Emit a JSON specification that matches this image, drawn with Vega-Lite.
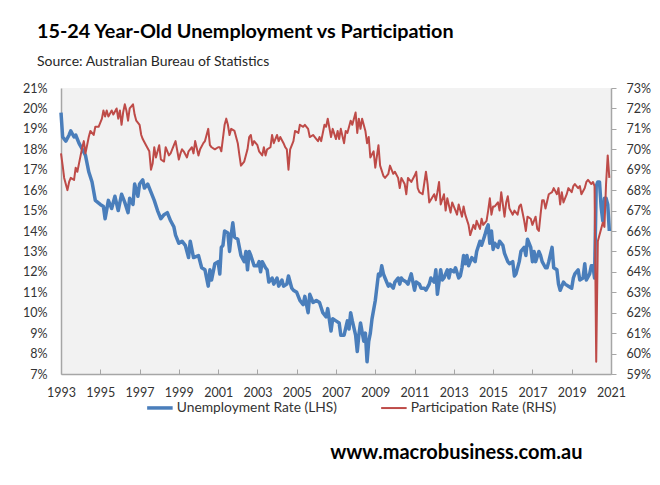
{
  "$schema": "https://vega.github.io/schema/vega-lite/v6.json",
  "width": 550,
  "height": 286,
  "autosize": {"type": "pad"},
  "padding": {"left": 22, "right": 10, "top": 22, "bottom": 0},
  "background": "white",
  "title": {
    "text": "15-24 Year-Old Unemployment vs Participation",
    "subtitle": "Source: Australian Bureau of Statistics",
    "anchor": "start",
    "frame": "group",
    "dx": -24,
    "font": "Lato",
    "fontSize": 19.8,
    "fontWeight": "bold",
    "color": "#000000",
    "subtitleFont": "Lato",
    "subtitleFontSize": 14,
    "subtitleColor": "#262626",
    "subtitlePadding": 13,
    "offset": 13
  },
  "datasets": {
    "unemployment": [
      {"month": "1993-01", "rate": 19.8}, {"month": "1993-02", "rate": 18.6}, {"month": "1993-04", "rate": 18.4},
      {"month": "1993-06", "rate": 18.7}, {"month": "1993-07", "rate": 18.9}, {"month": "1993-09", "rate": 18.6},
      {"month": "1993-10", "rate": 18.7}, {"month": "1993-12", "rate": 18.3}, {"month": "1994-02", "rate": 18.0},
      {"month": "1994-04", "rate": 17.7}, {"month": "1994-06", "rate": 16.9}, {"month": "1994-08", "rate": 16.4},
      {"month": "1994-10", "rate": 15.5}, {"month": "1995-01", "rate": 15.3}, {"month": "1995-03", "rate": 15.2},
      {"month": "1995-04", "rate": 14.6}, {"month": "1995-06", "rate": 15.5}, {"month": "1995-08", "rate": 15.1},
      {"month": "1995-10", "rate": 15.7}, {"month": "1995-12", "rate": 15.0}, {"month": "1996-02", "rate": 15.8},
      {"month": "1996-04", "rate": 15.4}, {"month": "1996-06", "rate": 14.9}, {"month": "1996-07", "rate": 15.6},
      {"month": "1996-09", "rate": 15.3}, {"month": "1996-10", "rate": 16.3}, {"month": "1996-12", "rate": 15.7},
      {"month": "1997-01", "rate": 16.3}, {"month": "1997-03", "rate": 16.5}, {"month": "1997-04", "rate": 16.1},
      {"month": "1997-06", "rate": 16.3}, {"month": "1997-08", "rate": 15.9}, {"month": "1997-10", "rate": 15.5},
      {"month": "1997-12", "rate": 15.0}, {"month": "1998-02", "rate": 14.6}, {"month": "1998-04", "rate": 14.8},
      {"month": "1998-06", "rate": 14.9}, {"month": "1998-08", "rate": 14.5}, {"month": "1998-10", "rate": 14.2},
      {"month": "1998-11", "rate": 13.8}, {"month": "1999-01", "rate": 13.4}, {"month": "1999-03", "rate": 13.5},
      {"month": "1999-05", "rate": 13.3}, {"month": "1999-07", "rate": 12.7}, {"month": "1999-08", "rate": 13.5},
      {"month": "1999-10", "rate": 12.7}, {"month": "2000-01", "rate": 12.8}, {"month": "2000-03", "rate": 12.2},
      {"month": "2000-05", "rate": 12.1}, {"month": "2000-07", "rate": 11.3}, {"month": "2000-08", "rate": 12.1},
      {"month": "2000-09", "rate": 11.6}, {"month": "2000-11", "rate": 12.4}, {"month": "2001-01", "rate": 12.5},
      {"month": "2001-02", "rate": 11.9}, {"month": "2001-03", "rate": 13.2}, {"month": "2001-04", "rate": 13.3},
      {"month": "2001-05", "rate": 14.0}, {"month": "2001-07", "rate": 13.9}, {"month": "2001-08", "rate": 13.0},
      {"month": "2001-09", "rate": 13.8}, {"month": "2001-10", "rate": 14.4}, {"month": "2001-11", "rate": 13.7},
      {"month": "2002-01", "rate": 13.6}, {"month": "2002-03", "rate": 12.8}, {"month": "2002-05", "rate": 12.5},
      {"month": "2002-06", "rate": 13.0}, {"month": "2002-07", "rate": 12.1}, {"month": "2002-08", "rate": 13.0},
      {"month": "2002-09", "rate": 12.8}, {"month": "2002-11", "rate": 12.3}, {"month": "2003-01", "rate": 12.3},
      {"month": "2003-02", "rate": 12.5}, {"month": "2003-03", "rate": 12.0}, {"month": "2003-04", "rate": 12.5},
      {"month": "2003-06", "rate": 12.2}, {"month": "2003-07", "rate": 12.1}, {"month": "2003-08", "rate": 11.5},
      {"month": "2003-10", "rate": 11.7}, {"month": "2003-11", "rate": 11.4}, {"month": "2004-01", "rate": 11.7},
      {"month": "2004-02", "rate": 11.3}, {"month": "2004-04", "rate": 11.6}, {"month": "2004-05", "rate": 11.3},
      {"month": "2004-07", "rate": 11.4}, {"month": "2004-08", "rate": 11.8}, {"month": "2004-10", "rate": 11.2},
      {"month": "2004-11", "rate": 11.1}, {"month": "2005-01", "rate": 11.0}, {"month": "2005-03", "rate": 10.6},
      {"month": "2005-05", "rate": 10.4}, {"month": "2005-06", "rate": 10.8}, {"month": "2005-08", "rate": 10.0},
      {"month": "2005-09", "rate": 10.9}, {"month": "2005-11", "rate": 10.5}, {"month": "2006-01", "rate": 10.6},
      {"month": "2006-03", "rate": 10.5}, {"month": "2006-05", "rate": 10.0}, {"month": "2006-07", "rate": 9.8},
      {"month": "2006-08", "rate": 10.2}, {"month": "2006-10", "rate": 9.1}, {"month": "2006-11", "rate": 9.7},
      {"month": "2007-01", "rate": 9.6}, {"month": "2007-03", "rate": 9.5}, {"month": "2007-04", "rate": 8.9},
      {"month": "2007-06", "rate": 8.9}, {"month": "2007-08", "rate": 9.6}, {"month": "2007-09", "rate": 9.2},
      {"month": "2007-10", "rate": 10.0}, {"month": "2007-11", "rate": 9.6}, {"month": "2008-01", "rate": 8.9},
      {"month": "2008-02", "rate": 8.1}, {"month": "2008-03", "rate": 8.9}, {"month": "2008-04", "rate": 9.5},
      {"month": "2008-06", "rate": 8.6}, {"month": "2008-07", "rate": 9.0}, {"month": "2008-08", "rate": 7.6},
      {"month": "2008-09", "rate": 8.6}, {"month": "2008-10", "rate": 9.0}, {"month": "2008-11", "rate": 9.7},
      {"month": "2009-01", "rate": 10.6}, {"month": "2009-03", "rate": 11.9}, {"month": "2009-04", "rate": 11.8},
      {"month": "2009-05", "rate": 12.3}, {"month": "2009-06", "rate": 11.9}, {"month": "2009-07", "rate": 11.7},
      {"month": "2009-09", "rate": 11.3}, {"month": "2009-10", "rate": 11.4}, {"month": "2009-12", "rate": 11.2},
      {"month": "2010-01", "rate": 11.5}, {"month": "2010-03", "rate": 11.7}, {"month": "2010-04", "rate": 11.4},
      {"month": "2010-05", "rate": 11.7}, {"month": "2010-06", "rate": 11.6}, {"month": "2010-08", "rate": 11.5},
      {"month": "2010-09", "rate": 11.4}, {"month": "2010-11", "rate": 11.9}, {"month": "2011-01", "rate": 11.1},
      {"month": "2011-02", "rate": 11.5}, {"month": "2011-04", "rate": 11.4}, {"month": "2011-05", "rate": 11.2},
      {"month": "2011-07", "rate": 11.2}, {"month": "2011-08", "rate": 11.1}, {"month": "2011-10", "rate": 11.4},
      {"month": "2011-11", "rate": 11.7}, {"month": "2012-01", "rate": 11.5}, {"month": "2012-02", "rate": 12.1},
      {"month": "2012-03", "rate": 10.9}, {"month": "2012-05", "rate": 12.1}, {"month": "2012-06", "rate": 11.6},
      {"month": "2012-07", "rate": 11.7}, {"month": "2012-09", "rate": 12.1}, {"month": "2012-10", "rate": 11.7},
      {"month": "2012-11", "rate": 12.1}, {"month": "2013-01", "rate": 12.0}, {"month": "2013-02", "rate": 12.2},
      {"month": "2013-04", "rate": 11.7}, {"month": "2013-05", "rate": 11.8}, {"month": "2013-06", "rate": 12.2},
      {"month": "2013-07", "rate": 12.8}, {"month": "2013-08", "rate": 12.4}, {"month": "2013-09", "rate": 12.8},
      {"month": "2013-10", "rate": 12.3}, {"month": "2013-12", "rate": 12.7}, {"month": "2014-02", "rate": 12.5},
      {"month": "2014-03", "rate": 13.0}, {"month": "2014-05", "rate": 13.5}, {"month": "2014-06", "rate": 13.3},
      {"month": "2014-08", "rate": 13.8}, {"month": "2014-09", "rate": 14.1}, {"month": "2014-10", "rate": 14.3},
      {"month": "2014-11", "rate": 13.4}, {"month": "2014-12", "rate": 14.0}, {"month": "2015-01", "rate": 13.1},
      {"month": "2015-02", "rate": 13.4}, {"month": "2015-03", "rate": 13.3}, {"month": "2015-04", "rate": 13.2},
      {"month": "2015-05", "rate": 13.5}, {"month": "2015-07", "rate": 13.3}, {"month": "2015-08", "rate": 12.9},
      {"month": "2015-10", "rate": 12.5}, {"month": "2015-11", "rate": 12.4}, {"month": "2016-01", "rate": 12.5},
      {"month": "2016-02", "rate": 11.8}, {"month": "2016-03", "rate": 11.9}, {"month": "2016-05", "rate": 12.5},
      {"month": "2016-06", "rate": 13.0}, {"month": "2016-08", "rate": 13.2}, {"month": "2016-09", "rate": 12.8},
      {"month": "2016-10", "rate": 13.6}, {"month": "2016-12", "rate": 13.2}, {"month": "2017-01", "rate": 12.5},
      {"month": "2017-02", "rate": 13.0}, {"month": "2017-03", "rate": 12.5}, {"month": "2017-05", "rate": 13.0},
      {"month": "2017-06", "rate": 12.8}, {"month": "2017-07", "rate": 12.5}, {"month": "2017-09", "rate": 12.2},
      {"month": "2017-10", "rate": 12.2}, {"month": "2017-11", "rate": 12.5}, {"month": "2018-01", "rate": 13.2},
      {"month": "2018-02", "rate": 12.2}, {"month": "2018-04", "rate": 12.1}, {"month": "2018-05", "rate": 11.4},
      {"month": "2018-06", "rate": 11.1}, {"month": "2018-08", "rate": 11.5}, {"month": "2018-09", "rate": 11.4},
      {"month": "2018-11", "rate": 11.3}, {"month": "2019-01", "rate": 11.2}, {"month": "2019-02", "rate": 11.7},
      {"month": "2019-03", "rate": 11.9}, {"month": "2019-05", "rate": 12.1}, {"month": "2019-06", "rate": 11.6},
      {"month": "2019-08", "rate": 11.7}, {"month": "2019-09", "rate": 12.4}, {"month": "2019-10", "rate": 11.6},
      {"month": "2019-12", "rate": 11.9}, {"month": "2020-01", "rate": 12.3}, {"month": "2020-02", "rate": 12.3},
      {"month": "2020-03", "rate": 11.7}, {"month": "2020-04", "rate": 16.2}, {"month": "2020-05", "rate": 16.4},
      {"month": "2020-06", "rate": 16.4}, {"month": "2020-07", "rate": 15.2}, {"month": "2020-08", "rate": 14.5},
      {"month": "2020-09", "rate": 15.6}, {"month": "2020-10", "rate": 15.6}, {"month": "2020-11", "rate": 15.3},
      {"month": "2020-12", "rate": 14.0}
    ],
    "participation": [
      {"month": "1993-01", "rate": 69.8}, {"month": "1993-02", "rate": 69.2}, {"month": "1993-03", "rate": 68.6},
      {"month": "1993-05", "rate": 68.0}, {"month": "1993-06", "rate": 68.4}, {"month": "1993-07", "rate": 68.6},
      {"month": "1993-09", "rate": 68.5}, {"month": "1993-10", "rate": 69.1}, {"month": "1993-11", "rate": 68.9},
      {"month": "1994-01", "rate": 69.7}, {"month": "1994-02", "rate": 70.1}, {"month": "1994-03", "rate": 70.4},
      {"month": "1994-04", "rate": 69.8}, {"month": "1994-06", "rate": 70.6}, {"month": "1994-07", "rate": 70.9},
      {"month": "1994-09", "rate": 70.7}, {"month": "1994-10", "rate": 71.1}, {"month": "1994-12", "rate": 71.1},
      {"month": "1995-02", "rate": 71.5}, {"month": "1995-03", "rate": 71.9}, {"month": "1995-04", "rate": 71.6},
      {"month": "1995-05", "rate": 71.9}, {"month": "1995-06", "rate": 71.6}, {"month": "1995-08", "rate": 71.9},
      {"month": "1995-09", "rate": 71.7}, {"month": "1995-11", "rate": 72.0}, {"month": "1995-12", "rate": 71.5},
      {"month": "1996-01", "rate": 71.9}, {"month": "1996-02", "rate": 71.2}, {"month": "1996-03", "rate": 71.8},
      {"month": "1996-04", "rate": 72.2}, {"month": "1996-05", "rate": 71.9}, {"month": "1996-06", "rate": 71.4},
      {"month": "1996-07", "rate": 72.0}, {"month": "1996-09", "rate": 72.2}, {"month": "1996-10", "rate": 71.7},
      {"month": "1996-11", "rate": 71.4}, {"month": "1997-01", "rate": 71.2}, {"month": "1997-02", "rate": 70.7},
      {"month": "1997-03", "rate": 70.5}, {"month": "1997-05", "rate": 70.2}, {"month": "1997-07", "rate": 69.9},
      {"month": "1997-08", "rate": 69.0}, {"month": "1997-09", "rate": 69.3}, {"month": "1997-10", "rate": 70.1},
      {"month": "1997-11", "rate": 69.6}, {"month": "1998-01", "rate": 70.2}, {"month": "1998-02", "rate": 69.5},
      {"month": "1998-04", "rate": 69.4}, {"month": "1998-05", "rate": 70.1}, {"month": "1998-07", "rate": 69.7},
      {"month": "1998-08", "rate": 69.8}, {"month": "1998-10", "rate": 70.2}, {"month": "1998-11", "rate": 70.4},
      {"month": "1999-01", "rate": 69.5}, {"month": "1999-02", "rate": 69.8}, {"month": "1999-03", "rate": 70.0},
      {"month": "1999-04", "rate": 69.9}, {"month": "1999-06", "rate": 69.6}, {"month": "1999-07", "rate": 69.9},
      {"month": "1999-09", "rate": 70.1}, {"month": "1999-10", "rate": 69.8}, {"month": "1999-11", "rate": 70.4},
      {"month": "2000-01", "rate": 69.7}, {"month": "2000-02", "rate": 70.0}, {"month": "2000-04", "rate": 70.3},
      {"month": "2000-05", "rate": 70.4}, {"month": "2000-07", "rate": 71.0}, {"month": "2000-08", "rate": 70.2},
      {"month": "2000-09", "rate": 70.1}, {"month": "2000-11", "rate": 70.0}, {"month": "2001-01", "rate": 70.1},
      {"month": "2001-02", "rate": 70.1}, {"month": "2001-03", "rate": 69.9}, {"month": "2001-05", "rate": 71.2},
      {"month": "2001-06", "rate": 71.5}, {"month": "2001-07", "rate": 71.2}, {"month": "2001-08", "rate": 70.7},
      {"month": "2001-09", "rate": 71.0}, {"month": "2001-11", "rate": 70.9}, {"month": "2002-01", "rate": 70.3},
      {"month": "2002-02", "rate": 69.7}, {"month": "2002-03", "rate": 69.2}, {"month": "2002-05", "rate": 69.4},
      {"month": "2002-07", "rate": 70.0}, {"month": "2002-08", "rate": 70.6}, {"month": "2002-09", "rate": 70.7},
      {"month": "2002-10", "rate": 70.2}, {"month": "2002-11", "rate": 70.4}, {"month": "2003-01", "rate": 70.2},
      {"month": "2003-02", "rate": 69.9}, {"month": "2003-04", "rate": 69.7}, {"month": "2003-05", "rate": 70.1},
      {"month": "2003-06", "rate": 69.7}, {"month": "2003-07", "rate": 70.0}, {"month": "2003-09", "rate": 70.1},
      {"month": "2003-10", "rate": 70.7}, {"month": "2003-11", "rate": 70.3}, {"month": "2004-01", "rate": 70.7},
      {"month": "2004-02", "rate": 70.4}, {"month": "2004-03", "rate": 70.6}, {"month": "2004-05", "rate": 70.3},
      {"month": "2004-06", "rate": 70.1}, {"month": "2004-07", "rate": 70.0}, {"month": "2004-08", "rate": 69.0},
      {"month": "2004-09", "rate": 70.0}, {"month": "2004-11", "rate": 70.4}, {"month": "2004-12", "rate": 70.9},
      {"month": "2005-02", "rate": 70.8}, {"month": "2005-03", "rate": 71.2}, {"month": "2005-05", "rate": 71.1},
      {"month": "2005-06", "rate": 71.2}, {"month": "2005-08", "rate": 71.0}, {"month": "2005-09", "rate": 70.6},
      {"month": "2005-11", "rate": 70.7}, {"month": "2006-01", "rate": 70.5}, {"month": "2006-02", "rate": 70.4},
      {"month": "2006-03", "rate": 70.6}, {"month": "2006-04", "rate": 70.4}, {"month": "2006-06", "rate": 71.2},
      {"month": "2006-07", "rate": 71.1}, {"month": "2006-08", "rate": 71.5}, {"month": "2006-10", "rate": 70.6},
      {"month": "2006-11", "rate": 71.0}, {"month": "2007-01", "rate": 70.5}, {"month": "2007-02", "rate": 70.9},
      {"month": "2007-03", "rate": 70.5}, {"month": "2007-04", "rate": 71.0}, {"month": "2007-06", "rate": 70.3},
      {"month": "2007-07", "rate": 70.9}, {"month": "2007-08", "rate": 70.8}, {"month": "2007-10", "rate": 71.4},
      {"month": "2007-11", "rate": 71.2}, {"month": "2008-01", "rate": 71.8}, {"month": "2008-02", "rate": 70.8},
      {"month": "2008-03", "rate": 71.5}, {"month": "2008-04", "rate": 71.0}, {"month": "2008-05", "rate": 71.5},
      {"month": "2008-07", "rate": 70.9}, {"month": "2008-08", "rate": 70.3}, {"month": "2008-09", "rate": 70.6},
      {"month": "2008-10", "rate": 69.6}, {"month": "2008-12", "rate": 69.9}, {"month": "2009-01", "rate": 69.1},
      {"month": "2009-03", "rate": 70.2}, {"month": "2009-04", "rate": 69.2}, {"month": "2009-06", "rate": 68.7},
      {"month": "2009-07", "rate": 68.6}, {"month": "2009-09", "rate": 68.8}, {"month": "2009-10", "rate": 69.2},
      {"month": "2009-12", "rate": 68.8}, {"month": "2010-01", "rate": 68.9}, {"month": "2010-03", "rate": 68.6},
      {"month": "2010-04", "rate": 68.1}, {"month": "2010-05", "rate": 68.6}, {"month": "2010-07", "rate": 68.3},
      {"month": "2010-08", "rate": 67.8}, {"month": "2010-09", "rate": 68.6}, {"month": "2010-11", "rate": 68.4},
      {"month": "2011-01", "rate": 68.7}, {"month": "2011-02", "rate": 68.9}, {"month": "2011-03", "rate": 68.1},
      {"month": "2011-04", "rate": 67.9}, {"month": "2011-06", "rate": 67.8}, {"month": "2011-08", "rate": 68.9},
      {"month": "2011-09", "rate": 68.3}, {"month": "2011-10", "rate": 67.4}, {"month": "2012-01", "rate": 67.8},
      {"month": "2012-02", "rate": 67.5}, {"month": "2012-03", "rate": 67.9}, {"month": "2012-04", "rate": 68.4},
      {"month": "2012-05", "rate": 67.3}, {"month": "2012-07", "rate": 67.8}, {"month": "2012-08", "rate": 67.0},
      {"month": "2012-09", "rate": 67.6}, {"month": "2012-11", "rate": 66.9}, {"month": "2012-12", "rate": 67.4},
      {"month": "2013-02", "rate": 67.0}, {"month": "2013-03", "rate": 66.8}, {"month": "2013-04", "rate": 67.3},
      {"month": "2013-06", "rate": 66.7}, {"month": "2013-07", "rate": 67.2}, {"month": "2013-08", "rate": 66.8},
      {"month": "2013-10", "rate": 66.3}, {"month": "2013-11", "rate": 65.8}, {"month": "2014-01", "rate": 66.3},
      {"month": "2014-02", "rate": 66.1}, {"month": "2014-03", "rate": 66.5}, {"month": "2014-05", "rate": 66.1},
      {"month": "2014-06", "rate": 66.6}, {"month": "2014-07", "rate": 66.3}, {"month": "2014-09", "rate": 66.5},
      {"month": "2014-10", "rate": 67.0}, {"month": "2014-11", "rate": 67.6}, {"month": "2014-12", "rate": 66.8},
      {"month": "2015-01", "rate": 67.2}, {"month": "2015-02", "rate": 67.2}, {"month": "2015-04", "rate": 67.4},
      {"month": "2015-05", "rate": 67.0}, {"month": "2015-06", "rate": 67.9}, {"month": "2015-08", "rate": 66.7},
      {"month": "2015-09", "rate": 67.4}, {"month": "2015-10", "rate": 67.7}, {"month": "2015-11", "rate": 67.1},
      {"month": "2016-01", "rate": 66.8}, {"month": "2016-02", "rate": 67.0}, {"month": "2016-04", "rate": 66.8},
      {"month": "2016-05", "rate": 67.2}, {"month": "2016-06", "rate": 67.3}, {"month": "2016-08", "rate": 66.5},
      {"month": "2016-09", "rate": 66.0}, {"month": "2016-10", "rate": 66.7}, {"month": "2016-12", "rate": 66.6},
      {"month": "2017-01", "rate": 66.3}, {"month": "2017-03", "rate": 66.7}, {"month": "2017-04", "rate": 66.1},
      {"month": "2017-05", "rate": 66.0}, {"month": "2017-06", "rate": 66.8}, {"month": "2017-07", "rate": 67.5},
      {"month": "2017-08", "rate": 67.5}, {"month": "2017-09", "rate": 67.1}, {"month": "2017-11", "rate": 67.8},
      {"month": "2018-01", "rate": 67.9}, {"month": "2018-02", "rate": 68.1}, {"month": "2018-04", "rate": 67.8},
      {"month": "2018-05", "rate": 68.1}, {"month": "2018-06", "rate": 67.3}, {"month": "2018-07", "rate": 67.9},
      {"month": "2018-08", "rate": 67.4}, {"month": "2018-10", "rate": 67.8}, {"month": "2018-11", "rate": 68.1},
      {"month": "2019-01", "rate": 67.9}, {"month": "2019-02", "rate": 68.2}, {"month": "2019-03", "rate": 68.3},
      {"month": "2019-05", "rate": 68.1}, {"month": "2019-06", "rate": 68.2}, {"month": "2019-07", "rate": 67.8},
      {"month": "2019-09", "rate": 68.1}, {"month": "2019-10", "rate": 68.4}, {"month": "2019-11", "rate": 68.5},
      {"month": "2020-01", "rate": 68.3}, {"month": "2020-02", "rate": 68.4}, {"month": "2020-03", "rate": 68.2},
      {"month": "2020-04", "rate": 59.6}, {"month": "2020-05", "rate": 65.5}, {"month": "2020-06", "rate": 65.8},
      {"month": "2020-07", "rate": 66.1}, {"month": "2020-08", "rate": 66.4}, {"month": "2020-09", "rate": 66.2},
      {"month": "2020-10", "rate": 68.3}, {"month": "2020-11", "rate": 69.7}, {"month": "2020-12", "rate": 68.6}
    ]
  },
  "encoding": {
    "x": {
      "field": "month",
      "type": "temporal",
      "scale": {
        "type": "utc",
        "domain": [
          {"year": 1993, "month": 1, "date": 1, "utc": true},
          {"year": 2021, "month": 1, "date": 1, "utc": true}
        ]
      },
      "axis": {
        "title": "www.macrobusiness.com.au",
        "titleFont": "Lato",
        "titleFontSize": 20,
        "titleFontWeight": "bold",
        "titleColor": "#000000",
        "titleAnchor": "end",
        "titleAlign": "right",
        "titleX": 521,
        "titleY": 78,
        "titleBaseline": "middle",
        "values": [
          {"year": 1993, "utc": true}, {"year": 1995, "utc": true}, {"year": 1997, "utc": true},
          {"year": 1999, "utc": true}, {"year": 2001, "utc": true}, {"year": 2003, "utc": true},
          {"year": 2005, "utc": true}, {"year": 2007, "utc": true}, {"year": 2009, "utc": true},
          {"year": 2011, "utc": true}, {"year": 2013, "utc": true}, {"year": 2015, "utc": true},
          {"year": 2017, "utc": true}, {"year": 2019, "utc": true}, {"year": 2021, "utc": true}
        ],
        "labelExpr": "utcFormat(datum.value, '%Y')",
        "tickSize": -5,
        "labelPadding": 17,
        "labelFlush": false,
        "labelOverlap": false
      }
    }
  },
  "layer": [
    {
      "data": {"name": "unemployment"},
      "mark": {"type": "line", "strokeWidth": 3.5, "strokeJoin": "round"},
      "encoding": {
        "y": {
          "field": "rate",
          "type": "quantitative",
          "scale": {"domain": [7, 21], "nice": false, "zero": false},
          "axis": {
            "title": null,
            "orient": "left",
            "values": [7, 8, 9, 10, 11, 12, 13, 14, 15, 16, 17, 18, 19, 20, 21],
            "labelExpr": "datum.value + '%'",
            "ticks": false,
            "labelPadding": 14
          }
        },
        "color": {
          "datum": "Unemployment Rate (LHS)",
          "type": "nominal",
          "scale": {
            "domain": ["Unemployment Rate (LHS)", "Participation Rate (RHS)"],
            "range": ["#4a7ebb", "#be4b48"]
          },
          "legend": {
            "orient": "none",
            "legendX": 92,
            "legendY": 313,
            "direction": "horizontal",
            "title": null,
            "symbolType": "stroke",
            "symbolSize": 650,
            "symbolStrokeWidth": 3,
            "labelFont": "Lato",
            "labelFontSize": 13.8,
            "labelColor": "#333333",
            "labelLimit": 300,
            "labelOffset": 10,
            "columnPadding": 40,
            "encode": {
              "symbols": {
                "update": {
                  "strokeWidth": {"signal": "datum.value === 'Unemployment Rate (LHS)' ? 3.5 : 2"}
                }
              }
            }
          }
        }
      }
    },
    {
      "data": {"name": "participation"},
      "mark": {"type": "line", "strokeWidth": 2, "strokeJoin": "round"},
      "encoding": {
        "y": {
          "field": "rate",
          "type": "quantitative",
          "scale": {"domain": [59, 73], "nice": false, "zero": false},
          "axis": {
            "title": null,
            "orient": "right",
            "values": [59, 60, 61, 62, 63, 64, 65, 66, 67, 68, 69, 70, 71, 72, 73],
            "labelExpr": "datum.value + '%'",
            "tickSize": 5,
            "labelPadding": 10
          }
        },
        "color": {"datum": "Participation Rate (RHS)", "type": "nominal"}
      }
    }
  ],
  "resolve": {"scale": {"y": "independent"}},
  "config": {
    "font": "Lato",
    "view": {"fill": "#f2f2f2", "stroke": null},
    "axis": {
      "grid": false,
      "domainColor": "#a6a6a6",
      "domainWidth": 1.5,
      "tickColor": "#a6a6a6",
      "labelFont": "Lato",
      "labelFontSize": 12.5,
      "labelColor": "#333333"
    }
  }
}
